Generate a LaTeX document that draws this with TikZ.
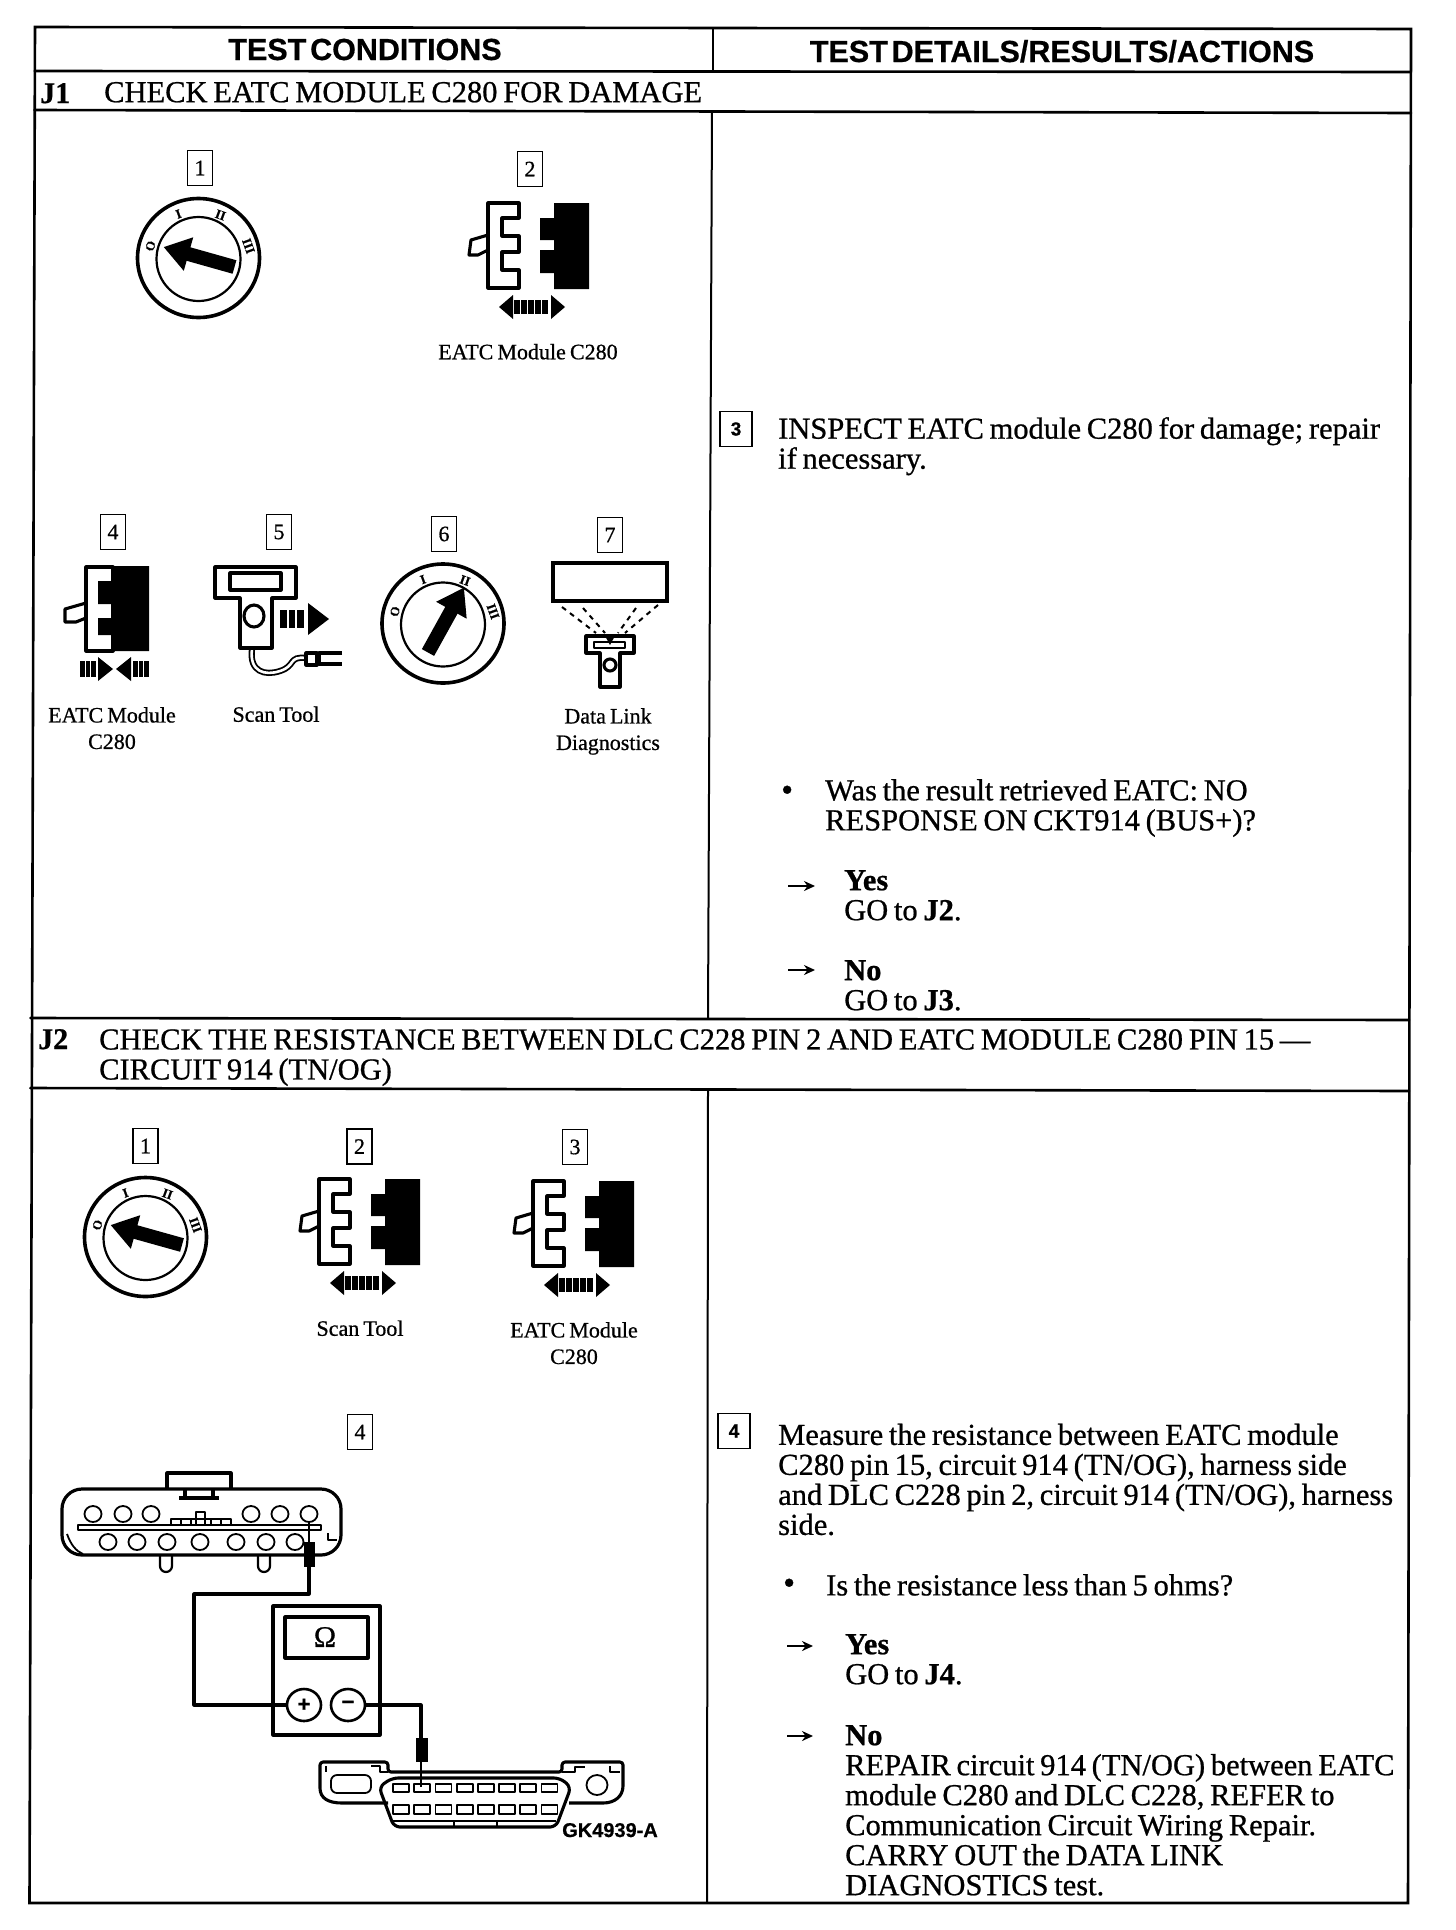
\documentclass[tikz,border=0pt]{standalone}
\usepackage{fontspec}
\setmainfont{Liberation Serif}[WordSpace=0.75,FakeBold=0.7]
\setsansfont{Liberation Sans}[WordSpace=0.45,FakeBold=0.6]
\usetikzlibrary{arrows.meta, positioning, calc, shapes.geometric}
\tikzset{
  rule/.style={line width=2.6pt, line cap=round},
  headtxt/.style={anchor=base, inner sep=0pt, font=\sffamily\bfseries\fontsize{30.5}{30}\selectfont},
  rowtag/.style={anchor=base west, inner sep=0pt, font=\bfseries\fontsize{30}{30}\selectfont},
  rowtxt/.style={anchor=north west, inner sep=0pt, align=left,
                 font=\fontsize{30.5}{30}\selectfont, execute at begin node=\strut},
  para/.style={anchor=north west, inner sep=0pt, align=left,
               font=\fontsize{30.5}{30}\selectfont, execute at begin node=\strut},
  glyph/.style={anchor=base west, inner sep=0pt, font=\fontsize{34}{30}\selectfont},
  yesno/.style={line width=2pt, -{Stealth[length=11pt,width=10pt]}},
  capt/.style={anchor=north, inner sep=0pt, align=center,
               font=\fontsize{22}{26.5}\selectfont, execute at begin node=\strut},
  numbox/.style={draw, line width=1.5pt, inner sep=0pt, minimum width=25pt, minimum height=35pt,
                 font=\fontsize{22}{21}\selectfont},
  numboxr/.style={draw, line width=1.8pt, inner sep=0pt, minimum width=32pt, minimum height=35pt,
                  font=\sffamily\bfseries\fontsize{19}{19}\selectfont},
  keylab/.style={inner sep=0pt, font=\bfseries\fontsize{13}{13}\selectfont},
  ink/.style={line width=3.1pt, line join=round},
  wire/.style={line width=3.1pt, line join=round},
  fine/.style={line width=1.8pt, line join=round},
  jack/.style={draw, line width=2.6pt, ellipse, minimum width=34pt, minimum height=32pt, inner sep=0pt,
               font=\sffamily\bfseries\fontsize{22}{22}\selectfont},
  pics/keyswitch/.style 2 args={code={
    \draw[line width=3.6pt] (0,0) circle[x radius=61, y radius=59.5];
    \draw[line width=2.2pt] (0,1) circle[radius=42];
    \node[keylab] (-p0) at (-48,-12) {\rotatebox{75}{O}};
    \node[keylab] (-p1) at (-20,-44) {\rotatebox{20}{I}};
    \node[keylab] (-p2) at (22,-43) {\rotatebox{-20}{II}};
    \node[keylab] (-p3) at (50,-12) {\rotatebox{-70}{III}};
    \draw[line width=14pt, -{Triangle[length=26pt,width=33pt]}] (#1) -- (#2);
  }},
  pics/plugapart/.style={code={
    \draw[ink] (0,32) -- (-17,37) -- (-19,52) -- (-10,52) -- (0,47);
    \draw[ink] (0,0) -- (31,0) -- (31,15) -- (14,15) -- (14,33) -- (31,33) -- (31,49)
      -- (14,49) -- (14,67) -- (31,67) -- (31,85) -- (0,85) -- cycle;
    \fill (66,0) -- (101,0) -- (101,86) -- (66,86) -- (66,70) -- (52,70) -- (52,47) -- (66,47)
      -- (66,37) -- (52,37) -- (52,15) -- (66,15) -- cycle;
    \fill (11,104) -- (25,92) -- (25,116) -- cycle;
    \fill (77,104) -- (63,92) -- (63,116) -- cycle;
    \foreach \bx in {26,33,40,47,54} \fill (\bx,97) rectangle ++(5.5,14);
  }},
}
\begin{document}
\begin{tikzpicture}[x=1pt, y=-1pt]
  \useasboundingbox (0,0) rectangle (1456,1930);
  \fill[white] (0,0) rectangle (1456,1930);

  % table frame
  \coordinate (tl) at (35,27);
  \coordinate (tr) at (1411,29);
  \coordinate (bl) at (29.5,1903);
  \coordinate (br) at (1408,1903);
  \draw[rule] (tl) -- (tr) -- (br) -- (bl) -- cycle;
  \coordinate (a1) at (34.7,71);
  \coordinate (a2) at (1411,72);
  \coordinate (b1) at (34.5,110);
  \coordinate (b2) at (1411,113);
  \coordinate (c1) at (30.5,1018);
  \coordinate (c2) at (1409,1020);
  \coordinate (d1) at (30.3,1088);
  \coordinate (d2) at (1409,1091);
  \draw[rule] (a1) -- (a2);
  \draw[rule] (b1) -- (b2);
  \draw[rule] (c1) -- (c2);
  \draw[rule] (d1) -- (d2);
  \coordinate (m1) at (713,27);
  \coordinate (m2) at (713,71);
  \coordinate (m3) at (712,111);
  \coordinate (m4) at (708,1019);
  \coordinate (m5) at (708,1089);
  \coordinate (m6) at (707,1903);
  \draw[line width=2pt] (m1) -- (m2);
  \draw[line width=2pt] (m3) -- (m4);
  \draw[line width=2pt] (m5) -- (m6);

  % headings
  \node[headtxt] (hleft) at (365,60) {TEST CONDITIONS};
  \node[headtxt] (hright) at (1062,62) {TEST DETAILS/RESULTS/ACTIONS};
  \node[rowtag] (tagj1) at (40,103) {J1};
  \node[rowtxt] (rowj1) at (104,81) {CHECK EATC MODULE C280 FOR DAMAGE};
  \node[rowtag] (tagj2) at (38,1049) {J2};
  \node[rowtxt] (rowj2) at (99,1029) {CHECK THE RESISTANCE BETWEEN DLC C228 PIN 2 AND EATC MODULE C280 PIN 15 ---\\CIRCUIT 914 (TN/OG)};

  % J1 left column
  \node[numbox] (ja1) at (200,168) {1};
  \node[numbox] (ja2) at (530,169) {2};
  \pic (ksa) at (198.5,258) {keyswitch={36,9}{-35,-11}};
  \pic (pla) at (488,203) {plugapart};
  \node[capt] (cpa) at (528,340.5) {EATC Module C280};

  \node[numbox] (ja4) at (113,532) {4};
  \node[numbox] (ja5) at (279,532) {5};
  \node[numbox] (ja6) at (444,534) {6};
  \node[numbox] (ja7) at (610,535) {7};

  % mated plug
  \draw[ink] (86,603) -- (65,609) -- (65,622) -- (76,622) -- (86,618);
  \draw[ink] (86,567) rectangle (113,651);
  \fill (113,566) -- (149,566) -- (149,651) -- (113,651) -- (113,635) -- (98,635) -- (98,618) -- (113,618)
    -- (113,604) -- (98,604) -- (98,581) -- (113,581) -- cycle;
  \fill (113,669) -- (98,657) -- (98,681) -- cycle;
  \foreach \bx in {80,85.5,91} \fill (\bx,661) rectangle ++(4.5,16);
  \fill (116,669) -- (131,657) -- (131,681) -- cycle;
  \foreach \bx in {133,138.5,144} \fill (\bx,661) rectangle ++(4.5,16);
  \node[capt] (cpb) at (112,707) {EATC Module\\C280};

  % scan tool
  \draw[line width=1.8pt, double, double distance=2.6pt]
    (252,649) .. controls (249,672) and (265,676) .. (280,671) .. controls (296,666) and (288,656) .. (306,658);
  \draw[ink, fill=white] (215,567) -- (296,567) -- (296,598) -- (272,598) -- (272,648) -- (240,648)
    -- (240,598) -- (215,598) -- cycle;
  \draw[ink] (230,573) rectangle (281,590);
  \draw[ink] (254,616) circle[x radius=10, y radius=11];
  \foreach \bx in {280,288.5,297} \fill (\bx,610) rectangle ++(6.5,18);
  \fill (308,603) -- (329,619) -- (308,635) -- cycle;
  \draw[ink] (306,653) rectangle (317,665);
  \draw[ink] (342,653) -- (319,653) -- (319,664) -- (342,664);
  \node[capt] (cpc) at (276,703) {Scan Tool};

  \pic (ksb) at (443,623.5) {keyswitch={-15,29}{21,-36}};

  % data link screen
  \draw[line width=3.4pt] (553,563) rectangle (667,601);
  \foreach \sx/\sy/\ex in {562/607/596, 583/608/605, 636/608/618, 658/605/625}
    \draw[line width=2pt, dash pattern=on 5pt off 5pt] (\sx,\sy) -- (\ex,633);
  \draw[ink, fill=white] (586,636) -- (634,636) -- (634,653) -- (620,653) -- (620,687) -- (600,687)
    -- (600,653) -- (586,653) -- cycle;
  \draw[fine] (594,642) rectangle (625,648);
  \fill (604,634) -- (616,634) -- (610,645) -- cycle;
  \draw[ink] (610,665) circle[radius=6];
  \node[capt] (cpd) at (608,708) {Data Link\\Diagnostics};

  % J1 right column
  \node[numboxr] (jr3) at (736,429) {3};
  \node[para] (ta) at (778,417) {INSPECT EATC module C280 for damage; repair\\if necessary.};
  \node[glyph] (ba) at (781,801) {•};
  \node[para] (tb) at (825,779) {Was the result retrieved EATC: NO\\RESPONSE ON CKT914 (BUS+)?};
  \coordinate (ya) at (788,886);
  \coordinate (yb) at (815,886);
  \draw[yesno] (ya) -- (yb);
  \node[para] (tc) at (844,870) {\textbf{Yes}\\GO to \textbf{J2}.};
  \coordinate (na) at (788,970);
  \coordinate (nb) at (815,970);
  \draw[yesno] (na) -- (nb);
  \node[para] (td) at (844,960) {\textbf{No}\\GO to \textbf{J3}.};

  % J2 left column
  \node[numbox] (jb1) at (145.5,1146) {1};
  \node[numbox] (jb2) at (359.5,1146.5) {2};
  \node[numbox] (jb3) at (575,1147) {3};
  \pic (ksc) at (145.5,1237) {keyswitch={36.5,8}{-35,-12}};
  \pic (plb) at (319,1179) {plugapart};
  \pic (plc) at (533,1181) {plugapart};
  \node[capt] (cpe) at (360,1317) {Scan Tool};
  \node[capt] (cpf) at (574,1322) {EATC Module\\C280};
  \node[numbox] (jb4) at (360,1432) {4};

  % harness connector
  \draw[ink] (167,1489) -- (167,1473) -- (231,1473) -- (231,1489);
  \draw[ink] (185,1489) -- (185,1498);
  \draw[ink] (213,1489) -- (213,1498);
  \draw[ink] (179,1498) -- (219,1498);
  \draw[line width=3.2pt, rounded corners=20pt] (95,1489) -- (341,1489) -- (341,1555) -- (62,1555) -- (62,1489) -- (95,1489);
  \draw[fine] (67,1534) .. controls (71,1545) and (76,1551) .. (83,1554);
  \draw[fine] (328,1533) -- (328,1540) -- (337,1540);
  \foreach \px in {93,123,151,251,280,309}
    \draw[fine] (\px,1514) circle[x radius=8.5, y radius=8];
  \foreach \px in {108,137,167,200,236,266,295}
    \draw[fine] (\px,1542) circle[x radius=8.5, y radius=8];
  \draw[fine] (78,1525) rectangle (321,1530);
  \draw[fine] (171,1525) -- (171,1519) -- (231,1519) -- (231,1525);
  \foreach \px in {181,191,211,221} \draw[line width=1.2pt] (\px,1519) -- (\px,1525);
  \draw[fine] (196,1525) -- (196,1512) -- (205,1512) -- (205,1525);
  \foreach \px in {160,258}
    \draw[line width=2.2pt] (\px,1555) -- (\px,1566) arc[start angle=180, end angle=0, radius=6] -- (\px+12,1555);

  % meter
  \draw[ink] (273,1606) rectangle (380,1735);
  \draw[ink] (285,1617) rectangle (368,1658);
  \node[inner sep=0pt, font=\fontsize{30}{30}\selectfont] (ohm) at (325,1637) {Ω};
  \node[jack] (jackp) at (304,1705) {+};
  \node[jack] (jackm) at (348,1705) {−};

  % test leads
  \coordinate (pa) at (309,1567);
  \coordinate (pb) at (309,1594);
  \coordinate (pc) at (194,1594);
  \coordinate (pd) at (194,1705);
  \coordinate (qa) at (421,1705);
  \coordinate (qb) at (421,1738);
  \draw[wire] (pa) -- (pb) -- (pc) -- (pd) -- (jackp);
  \draw[wire] (jackm) -- (qa) -- (qb);
  \fill (304,1542) rectangle (315,1567);
  \draw[fine] (309,1523) -- (309,1542);
  \fill (416,1738) rectangle (428,1762);
  \draw[fine] (421,1762) -- (421,1787);

  % data link connector
  \draw[ink, rounded corners=3pt] (388,1803) -- (345,1803) .. controls (328,1803) and (320,1798) .. (320,1785)
    -- (320,1762) -- (388,1762) -- (388,1772) -- (562,1772) -- (562,1762) -- (623,1762) -- (623,1783)
    .. controls (623,1796) and (615,1803) .. (600,1803) -- (569,1803);
  \draw[ink, rounded corners=6pt] (392,1778) -- (560,1778) -- (571,1787) -- (556,1827) -- (394,1827) -- (379,1787) -- cycle;
  \draw[fine] (392,1821) -- (556,1821);
  \draw[fine] (454,1821) -- (454,1827);
  \draw[fine] (497,1821) -- (497,1827);
  \foreach \n in {0,...,7} {
    \draw[fine] ({393+21.2*\n},1784) rectangle ++(16,8);
    \draw[fine] ({393+21.2*\n},1805) rectangle ++(16,9);
  }
  \draw[fine, rounded corners=6pt] (331,1775) rectangle (371,1793);
  \draw[fine] (597,1785) circle[x radius=10.5, y radius=10];
  \draw[fine] (326,1766) -- (326,1772);
  \draw[fine] (371,1766) -- (380,1766) -- (380,1772) -- (388,1772);
  \draw[fine] (562,1772) -- (575,1772) -- (575,1767) -- (585,1767);
  \draw[fine] (610,1766) -- (610,1772) -- (620,1772);
  \node[anchor=base west, inner sep=0pt, font=\sffamily\bfseries\fontsize{20}{20}\selectfont] (figref) at (562,1837) {GK4939-A};

  % J2 right column
  \node[numboxr] (jr4) at (734,1431) {4};
  \node[para] (te) at (778,1423.5) {Measure the resistance between EATC module\\C280 pin 15, circuit 914 (TN/OG), harness side\\and DLC C228 pin 2, circuit 914 (TN/OG), harness\\side.};
  \node[glyph] (bb) at (783,1594) {•};
  \node[para] (tf) at (826,1574) {Is the resistance less than 5 ohms?};
  \coordinate (yc) at (787,1646);
  \coordinate (yd) at (813,1646);
  \draw[yesno] (yc) -- (yd);
  \node[para] (tg) at (845,1634) {\textbf{Yes}\\GO to \textbf{J4}.};
  \coordinate (nc) at (787,1736);
  \coordinate (nd) at (813,1736);
  \draw[yesno] (nc) -- (nd);
  \node[para] (th) at (845,1725) {\textbf{No}\\REPAIR circuit 914 (TN/OG) between EATC\\module C280 and DLC C228, REFER to\\Communication Circuit Wiring Repair.\\CARRY OUT the DATA LINK\\DIAGNOSTICS test.};
\end{tikzpicture}
\end{document}
